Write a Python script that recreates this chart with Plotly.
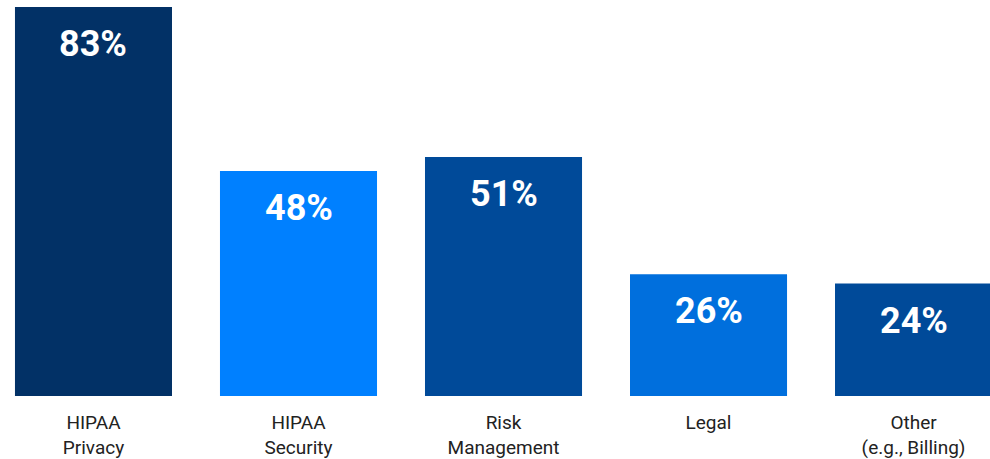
import plotly.graph_objects as go

# Share of respondents by area of responsibility
categories = ["HIPAA<br>Privacy", "HIPAA<br>Security", "Risk<br>Management", "Legal", "Other<br>(e.g., Billing)"]
values = [83, 48, 51, 26, 24]
bar_colors = ["#023166", "#0080FF", "#004A99", "#006FDD", "#004A99"]

fig = go.Figure(
    go.Bar(
        x=list(range(len(categories))),
        y=values,
        marker=dict(color=bar_colors, line=dict(width=0)),
        hoverinfo="skip",
    )
)

for i, v in enumerate(values):
    fig.add_annotation(
        x=i, y=v, text=f"<b>{v}%</b>", showarrow=False,
        yanchor="middle", yshift=-37,
        font=dict(family="Roboto", size=36, color="white"),
    )

fig.update_layout(
    width=990, height=459,
    margin=dict(l=0, r=0, t=7, b=63),
    paper_bgcolor="white", plot_bgcolor="white",
    bargap=0.234, showlegend=False,
    font=dict(family="Roboto", size=19, color="#222222"),
)
fig.update_xaxes(
    tickmode="array", tickvals=list(range(len(categories))), ticktext=categories,
    range=[-0.456, 4.373], showgrid=False, zeroline=False, showline=False,
    ticks="", ticklabelstandoff=13, automargin=False,
    tickfont=dict(family="Roboto", size=19, color="#222222"),
)
fig.update_yaxes(range=[0, 83], visible=False, showgrid=False, zeroline=False,
                 automargin=False)

fig.write_html("out.html")
